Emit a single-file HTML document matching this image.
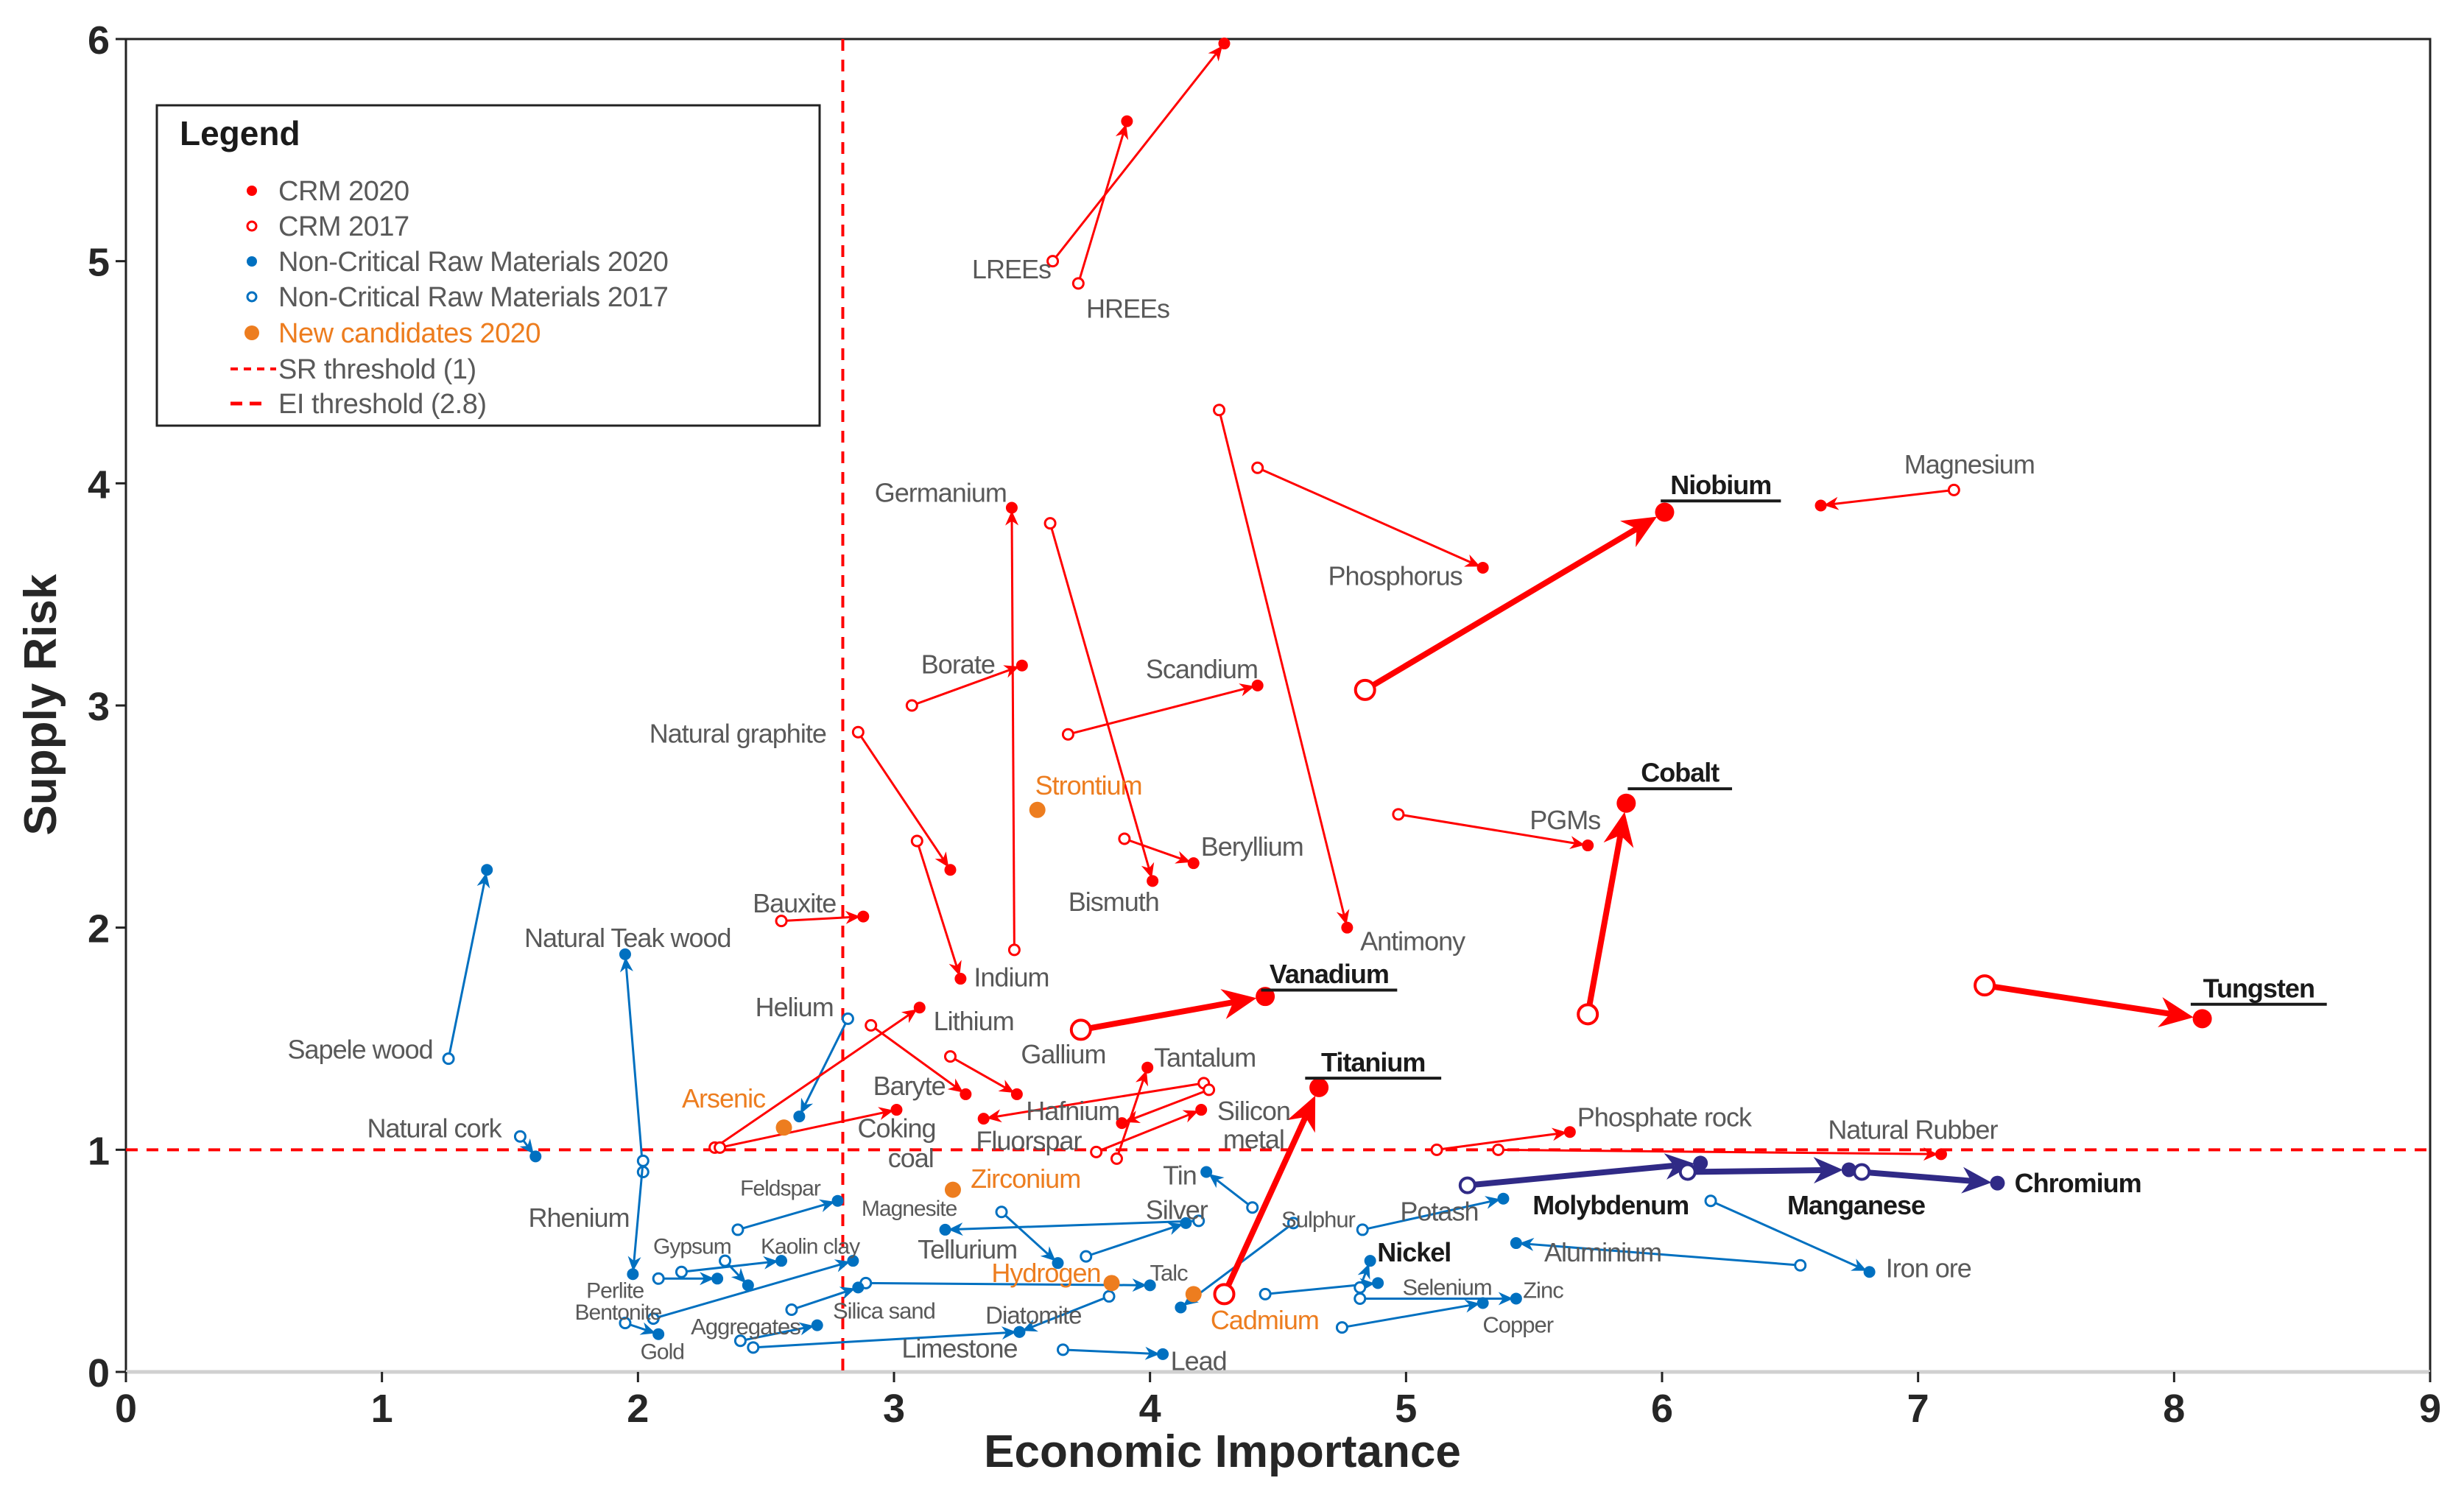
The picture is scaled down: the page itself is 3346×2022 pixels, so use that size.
<!DOCTYPE html>
<html><head><meta charset="utf-8"><style>
html,body{margin:0;padding:0;background:#fff;}
svg{display:block;}
text{font-family:"Liberation Sans",sans-serif;}
</style></head>
<body>
<svg id="chart" xmlns="http://www.w3.org/2000/svg" width="3346" height="2022" viewBox="0 0 3346 2022">
<g id="grid"></g>
<g id="marks"></g>
<g id="labels"></g>
</svg>
<script>
// ---- data (Economic Importance, Supply Risk) : 2017 -> 2020 ----
const crmNames = ["LREEs","HREEs","Germanium","Borate","Bismuth","Antimony","Phosphorus","Magnesium","Scandium","Natural graphite","Beryllium","PGMs","Bauxite","Indium","Lithium","Baryte","Gallium","Tantalum","Hafnium","Silicon metal","Fluorspar","Coking coal","Phosphate rock","Natural Rubber"];
const crm2017x = [3.62,3.72,3.47,3.07,3.61,4.27,4.42,7.14,3.68,2.86,3.90,4.97,2.56,3.09,2.30,2.91,3.22,3.87,4.21,3.79,4.23,2.32,5.12,5.36];
const crm2017y = [5.00,4.90,1.90,3.00,3.82,4.33,4.07,3.97,2.87,2.88,2.40,2.51,2.03,2.39,1.01,1.56,1.42,0.96,1.30,0.99,1.27,1.01,1.00,1.00];
const crm2020x = [4.29,3.91,3.46,3.50,4.01,4.77,5.30,6.62,4.42,3.22,4.17,5.71,2.88,3.26,3.10,3.28,3.48,3.99,3.35,4.20,3.89,3.01,5.64,7.09];
const crm2020y = [5.98,5.63,3.89,3.18,2.21,2.00,3.62,3.90,3.09,2.26,2.29,2.37,2.05,1.77,1.64,1.25,1.25,1.37,1.14,1.18,1.12,1.18,1.08,0.98];

const bigNames = ["Niobium","Cobalt","Vanadium","Tungsten","Titanium"];
const big2017x = [4.84,5.71,3.73,7.26,4.29];
const big2017y = [3.07,1.61,1.54,1.74,0.35];
const big2020x = [6.01,5.86,4.45,8.11,4.66];
const big2020y = [3.87,2.56,1.69,1.59,1.28];

const purpleNames = ["Molybdenum","Manganese","Chromium"];
const pur2017x = [5.24,6.10,6.78];
const pur2017y = [0.84,0.90,0.90];
const pur2020x = [6.15,6.73,7.31];
const pur2020y = [0.94,0.91,0.85];

const ncNames = ["Sapele wood","Natural Teak wood","Natural cork","Rhenium","Helium","Feldspar","Magnesite","Tellurium","Silver","Tin","Sulphur","Potash","Aluminium","Iron ore","Selenium","Zinc","Copper","Nickel","Lead","Talc","Diatomite","Limestone","Silica sand","Aggregates","Gold","Bentonite","Gypsum","Kaolin clay","Perlite"];
const nc2017x = [1.26,2.02,1.54,2.02,2.82,2.39,4.19,3.42,3.75,4.40,4.56,4.83,6.54,6.19,4.45,4.82,4.75,4.82,3.66,2.89,3.84,2.45,2.60,2.40,1.95,2.06,2.34,2.17,2.08];
const nc2017y = [1.41,0.90,1.06,0.95,1.59,0.64,0.68,0.72,0.52,0.74,0.67,0.64,0.48,0.77,0.35,0.33,0.20,0.38,0.10,0.40,0.34,0.11,0.28,0.14,0.22,0.24,0.50,0.45,0.42];
const nc2020x = [1.41,1.95,1.60,1.98,2.63,2.78,3.20,3.64,4.14,4.22,4.12,5.38,5.43,6.81,4.89,5.43,5.30,4.86,4.05,4.00,3.49,3.49,2.86,2.70,2.08,2.84,2.43,2.56,2.31];
const nc2020y = [2.26,1.88,0.97,0.44,1.15,0.77,0.64,0.49,0.67,0.90,0.29,0.78,0.58,0.45,0.40,0.33,0.31,0.50,0.08,0.39,0.18,0.18,0.38,0.21,0.17,0.50,0.39,0.50,0.42];

const candNames = ["Strontium","Arsenic","Zirconium","Hydrogen","Cadmium"];
const candX = [3.56,2.57,3.23,3.85,4.17];
const candY = [2.53,1.10,0.82,0.40,0.35];

const xTicks = [0,1,2,3,4,5,6,7,8,9];
const yTicks = [0,1,2,3,4,5,6];
const eiThreshold = 2.8;
const srThreshold = 1;

// ---- axes ----
const L=171, R=3300, T=53, B=1863;
const X = v => L + v*(R-L)/9;
const Y = v => B - v*(B-T)/6;
const NS="http://www.w3.org/2000/svg";
function el(tag, attrs, parent){const e=document.createElementNS(NS,tag);for(const k in attrs)e.setAttribute(k,attrs[k]);parent.appendChild(e);return e;}
const grid=document.getElementById('grid'), marks=document.getElementById('marks'), labels=document.getElementById('labels');

let e;
e=el('path',{d:`M${L},${B} L${L},${T} L${R},${T} L${R},${B}`,fill:'none',stroke:'#222','stroke-width':3},grid);


e=el('line',{x1:L,y1:B,x2:R,y2:B,stroke:'#d0d0d0','stroke-width':5},grid);


xTicks.forEach(t=>{
  e=el('line',{x1:X(t),y1:B,x2:X(t),y2:B+14,stroke:'#222','stroke-width':3},grid);
  
  
  e=el('text',{x:X(t),y:B+68,'text-anchor':'middle','font-size':54,'font-weight':'bold',fill:'#262626'},grid);
  e.textContent=t;
  
  
});
yTicks.forEach(t=>{
  e=el('line',{x1:L-14,y1:Y(t),x2:L,y2:Y(t),stroke:'#222','stroke-width':3},grid);
  
  
  e=el('text',{x:L-22,y:Y(t)+20,'text-anchor':'end','font-size':54,'font-weight':'bold',fill:'#262626'},grid);
  e.textContent=t;
  
  
});
e=el('line',{x1:X(eiThreshold),y1:T,x2:X(eiThreshold),y2:B,stroke:'#f00','stroke-width':4,'stroke-dasharray':'16,12'},grid);


e=el('line',{x1:L,y1:Y(srThreshold),x2:R,y2:Y(srThreshold),stroke:'#f00','stroke-width':4,'stroke-dasharray':'16,12'},grid);


e=el('text',{x:1660,y:1992,'text-anchor':'middle','font-size':62,'font-weight':'bold',fill:'#262626'},grid);
e.textContent='Economic Importance';


e=el('text',{x:0,y:0,'text-anchor':'middle','font-size':62,'font-weight':'bold',fill:'#262626',transform:'translate(76,957) rotate(-90)'},grid);
e.textContent='Supply Risk';



// ---- arrows ----
function arrow(x1,y1,x2,y2,color,w,head,rEnd,name){
  const px1=X(x1),py1=Y(y1),px2=X(x2),py2=Y(y2);
  const dx=px2-px1,dy=py2-py1,len=Math.hypot(dx,dy)||1,ux=dx/len,uy=dy/len;
  const tipX=px2-ux*rEnd, tipY=py2-uy*rEnd;
  const bx=tipX-ux*head, by=tipY-uy*head;
  const g=el('g',{},marks);
  
  
  el('line',{x1:px1,y1:py1,x2:bx+ux*head*0.3,y2:by+uy*head*0.3,stroke:color,'stroke-width':w},g);
  const hw=head*0.45;
  el('polygon',{points:`${tipX},${tipY} ${bx-uy*hw},${by+ux*hw} ${bx+ux*head*0.3},${by+uy*head*0.3} ${bx+uy*hw},${by-ux*hw}`,fill:color},g);
}
function dot(x,y,r,fill,stroke,sw,name){
  const c=el('circle',{cx:X(x),cy:Y(y),r:r,fill:fill,stroke:stroke,'stroke-width':sw},marks);
  
  
}
const BLUE='#0070c0', RED='#ff0000', PUR='#302a86', ORA='#ed7d1f';
ncNames.forEach((n,i)=>{
  arrow(nc2017x[i],nc2017y[i],nc2020x[i],nc2020y[i],BLUE,3,20,4,n.toLowerCase().replace(/ /g,'-'));
  dot(nc2017x[i],nc2017y[i],7,'#fff',BLUE,3,'ncrm-2017-point');
  dot(nc2020x[i],nc2020y[i],8,BLUE,'none',0,'ncrm-2020-point');
});
crmNames.forEach((n,i)=>{
  arrow(crm2017x[i],crm2017y[i],crm2020x[i],crm2020y[i],RED,3,20,4,n.toLowerCase().replace(/ /g,'-'));
  dot(crm2017x[i],crm2017y[i],7,'#fff',RED,3,'crm-2017-point');
  dot(crm2020x[i],crm2020y[i],8,RED,'none',0,'crm-2020-point');
});
bigNames.forEach((n,i)=>{
  arrow(big2017x[i],big2017y[i],big2020x[i],big2020y[i],RED,8,46,12,n.toLowerCase());
  dot(big2017x[i],big2017y[i],13,'#fff',RED,4,'crm-2017-point-major');
  dot(big2020x[i],big2020y[i],13,RED,'none',0,'crm-2020-point-major');
});
purpleNames.forEach((n,i)=>{
  arrow(pur2017x[i],pur2017y[i],pur2020x[i],pur2020y[i],PUR,8,40,8,n.toLowerCase());
  dot(pur2017x[i],pur2017y[i],10,'#fff',PUR,4,'purple-2017-point');
  dot(pur2020x[i],pur2020y[i],10,PUR,'none',0,'purple-2020-point');
});
candNames.forEach((n,i)=>{
  dot(candX[i],candY[i],11,ORA,'none',0,'candidate-point');
});

// ---- labels (view-space positions, scaled) ----
const S=2.136;
const labelLayout=[
["LREEs",643,171,36,'n'],["HREEs",717,196,36,'n'],["Germanium",598,313,36,'n'],["Niobium",1094,308,36,'u'],
["Magnesium",1252,295,36,'n'],["Phosphorus",887,366,36,'n'],["Borate",609,422,36,'n'],["Scandium",764,425,36,'n'],
["Natural graphite",469,466,36,'n'],["Strontium",692,499,36,'o'],["Cobalt",1068,491,36,'u'],["PGMs",995,521,36,'n'],
["Beryllium",796,538,36,'n'],["Bismuth",708,573,36,'n'],["Bauxite",505,574,36,'n'],["Natural Teak wood",399,596,36,'n'],
["Antimony",898,598,36,'n'],["Indium",643,621,36,'n'],["Vanadium",845,619,36,'u'],["Tungsten",1436,628,36,'u'],
["Helium",505,640,36,'n'],["Lithium",619,649,36,'n'],["Sapele wood",229,667,36,'n'],["Gallium",676,670,36,'n'],
["Tantalum",766,672,36,'n'],["Titanium",873,675,36,'u'],["Arsenic",460,698,36,'o'],["Baryte",578,690,36,'n'],
["Hafnium",682,706,36,'n'],["Silicon",797,706,36,'n'],["metal",797,724,36,'n'],["Phosphate rock",1058,710,36,'n'],
["Natural cork",276,717,36,'n'],["Coking",570,717,36,'n'],["coal",579,736,36,'n'],["Fluorspar",654,725,36,'n'],
["Natural Rubber",1216,718,36,'n'],["Zirconium",652,749,36,'o'],["Tin",750,747,36,'n'],["Chromium",1321,752,36,'b'],
["Feldspar",496,755,30,'n'],["Molybdenum",1024,766,36,'b'],["Manganese",1180,766,36,'b'],["Magnesite",578,768,30,'n'],
["Silver",748,769,36,'n'],["Rhenium",368,774,36,'n'],["Potash",915,770,36,'n'],["Sulphur",838,775,31,'n'],
["Gypsum",440,792,30,'n'],["Kaolin clay",515,792,30,'n'],["Tellurium",615,794,36,'n'],["Aluminium",1019,796,36,'n'],
["Nickel",899,796,36,'b'],["Iron ore",1226,806,36,'n'],["Hydrogen",665,809,36,'o'],["Talc",743,809,31,'n'],
["Perlite",391,820,30,'n'],["Selenium",920,818,31,'n'],["Zinc",981,820,31,'n'],["Bentonite",393,834,30,'n'],
["Silica sand",562,833,31,'n'],["Diatomite",657,836,33,'n'],["Cadmium",804,839,36,'o'],["Aggregates",474,843,31,'n'],
["Copper",965,842,31,'n'],["Limestone",610,857,36,'n'],["Gold",421,859,30,'n'],["Lead",762,865,36,'n']
];
labelLayout.forEach(l=>{
  const [txt,vx,vy,fs,kind]=l;
  const fill = kind==='o'?ORA:(kind==='u'||kind==='b')?'#1a1a1a':'#595959';
  const t=el('text',{x:vx*S,y:vy*S+fs*0.36,'text-anchor':'middle','font-size':fs,fill:fill,'font-weight':(kind==='u'||kind==='b')?'bold':'normal','letter-spacing':-1},labels);
  t.textContent=txt;
  
  
  if(kind==='u'){
    const w=txt.length*fs*0.6;
    const u=el('line',{x1:vx*S-w/2-6,y1:vy*S+fs*0.62,x2:vx*S+w/2+6,y2:vy*S+fs*0.62,stroke:'#1a1a1a','stroke-width':4},labels);
    
    
  }
});

// ---- legend ----
const lg=el('g',{},labels);


el('rect',{x:213,y:143,width:900,height:435,fill:'#fff',stroke:'#222','stroke-width':3},lg);
e=el('text',{x:244,y:197,'font-size':46,'font-weight':'bold',fill:'#1a1a1a'},lg);
e.textContent='Legend';


const legItems=[["CRM 2020",'#595959'],["CRM 2017",'#595959'],["Non-Critical Raw Materials 2020",'#595959'],["Non-Critical Raw Materials 2017",'#595959'],["New candidates 2020",ORA],["SR threshold (1)",'#595959'],["EI threshold (2.8)",'#595959']];
const legY=[259,307,355,403,452,501,548];
legItems.forEach((it,i)=>{
  const y=legY[i];
  if(i===0) el('circle',{cx:342,cy:y,r:7,fill:RED},lg);
  if(i===1) el('circle',{cx:342,cy:y,r:6,fill:'#fff',stroke:RED,'stroke-width':3},lg);
  if(i===2) el('circle',{cx:342,cy:y,r:7,fill:BLUE},lg);
  if(i===3) el('circle',{cx:342,cy:y,r:6,fill:'#fff',stroke:BLUE,'stroke-width':3},lg);
  if(i===4) el('circle',{cx:342,cy:y,r:10,fill:ORA},lg);
  if(i===5) el('line',{x1:313,y1:y,x2:375,y2:y,stroke:RED,'stroke-width':4,'stroke-dasharray':'10,8'},lg);
  if(i===6) el('line',{x1:313,y1:y,x2:361,y2:y,stroke:RED,'stroke-width':5,'stroke-dasharray':'16,10'},lg);
  const t=el('text',{x:378,y:y+13,'font-size':38,fill:it[1],'letter-spacing':-0.5},lg);
  t.textContent=it[0];
  
  
});
</script>
</body></html>
